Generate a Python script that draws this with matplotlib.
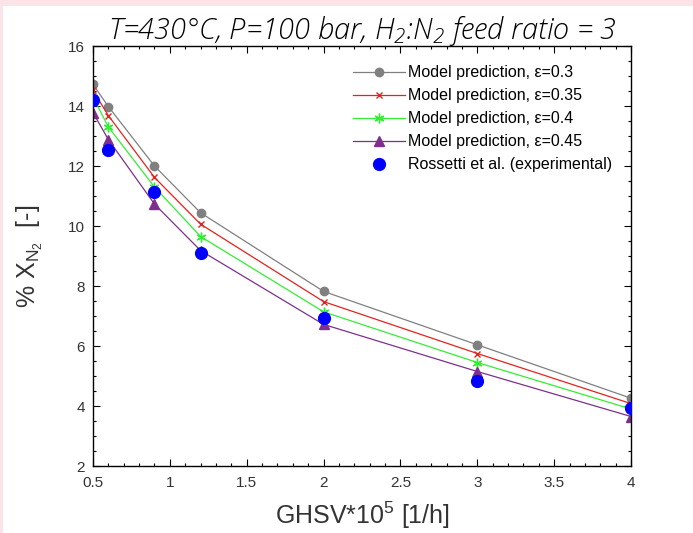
import numpy as np
import matplotlib.pyplot as plt
from matplotlib.patches import Rectangle

# GHSV*1e5 values [1/h]
ghsv = [0.5, 0.6, 0.9, 1.2, 2.0, 3.0, 4.0]

# model predictions for % X_N2 at different bed voidage
eps_03 = [14.72, 13.98, 12.0, 10.44, 7.82, 6.04, 4.26]
eps_035 = [14.52, 13.68, 11.62, 10.06, 7.48, 5.75, 4.08]
eps_04 = [14.3, 13.3, 11.3, 9.65, 7.14, 5.45, 3.9]
eps_045 = [13.78, 12.88, 10.73, 9.18, 6.72, 5.15, 3.65]

# Rossetti et al. experimental data
exp_x = [0.5, 0.6, 0.9, 1.2, 2.0, 3.0, 4.0]
exp_y = [14.19, 12.52, 11.15, 9.1, 6.92, 4.85, 3.93]

plt.rcParams['font.family'] = ['Liberation Sans', 'DejaVu Sans']
plt.rcParams['mathtext.fontset'] = 'custom'
# rm is used for the title subscripts, sf for the axis labels
plt.rcParams['mathtext.rm'] = 'Open Sans:italic:light'
plt.rcParams['mathtext.sf'] = 'Liberation Sans'

fig = plt.figure(figsize=(6.93, 5.33), dpi=100)
fig.patch.set_facecolor('#fbe4e7')
# white panel inside the pink border
fig.patches.append(Rectangle((3/693, 0), 1, 1 - 6/533, transform=fig.transFigure,
                             facecolor='white', edgecolor='none', zorder=-5))

ax = fig.add_axes([93/693, 1 - 466/533, 538/693, 420/533])
ax.set_facecolor('white')

lw = 0.9
ax.plot(ghsv, eps_03, color='#808080', marker='o', ms=6, lw=lw,
        label='Model prediction, \u03b5=0.3')
ax.plot(ghsv, eps_035, color='#e3231f', marker='x', ms=5, mew=1, lw=lw,
        label='Model prediction, \u03b5=0.35')
ax.plot(ghsv, eps_04, color='#33ee33', marker=(6, 2, 0), ms=7, mew=1, lw=lw,
        label='Model prediction, \u03b5=0.4')
ax.plot(ghsv, eps_045, color='#7e2f8e', marker='^', ms=7, lw=lw,
        label='Model prediction, \u03b5=0.45')
ax.plot(exp_x, exp_y, color='#0000ff', marker='o', ms=8.5, lw=0,
        label='Rossetti et al. (experimental)', zorder=5)

ax.set_xlim(0.5, 4)
ax.set_ylim(2, 16)
ax.set_xticks([0.5, 1, 1.5, 2, 2.5, 3, 3.5, 4])
ax.set_xticklabels(['0.5', '1', '1.5', '2', '2.5', '3', '3.5', '4'])
ax.set_yticks([2, 4, 6, 8, 10, 12, 14, 16])
ax.set_xticks(np.arange(0.5, 4.01, 0.1), minor=True)
ax.set_yticks(np.arange(2, 16.01, 0.5), minor=True)
ax.tick_params(which='both', direction='in', top=True, right=True,
               labelsize=11, labelcolor='#333333', width=0.8)
ax.tick_params(which='major', length=5)
ax.tick_params(which='minor', length=2.5)
ax.tick_params(axis='x', which='major', pad=7)
ax.tick_params(axis='y', which='major', pad=6)
for s in ax.spines.values():
    s.set_linewidth(1)

ax.set_xlabel(r'GHSV*10$^{\mathsf{5}}$ [1/h]', fontsize=18, color='#333333', labelpad=7)
ax.set_ylabel(r'% X$_{\mathsf{N}_{\mathsf{2}}}$  [-]', fontsize=18, color='#333333', labelpad=16)

fig.text(0.5 * (93 + 631) / 693, 1 - 30 / 533,
         r'T=430°C, P=100 bar, H$_\mathrm{2}$:N$_\mathrm{2}$ feed ratio = 3',
         family='Open Sans', style='italic', weight='light',
         fontsize=21, ha='center', va='center')

leg = ax.legend(loc='upper right', frameon=False, fontsize=11.5, handlelength=3.2,
                handletextpad=0.2, labelspacing=0.5, borderaxespad=0.9,
                borderpad=0.3)

fig.savefig('out.png', dpi=100, facecolor=fig.get_facecolor())
